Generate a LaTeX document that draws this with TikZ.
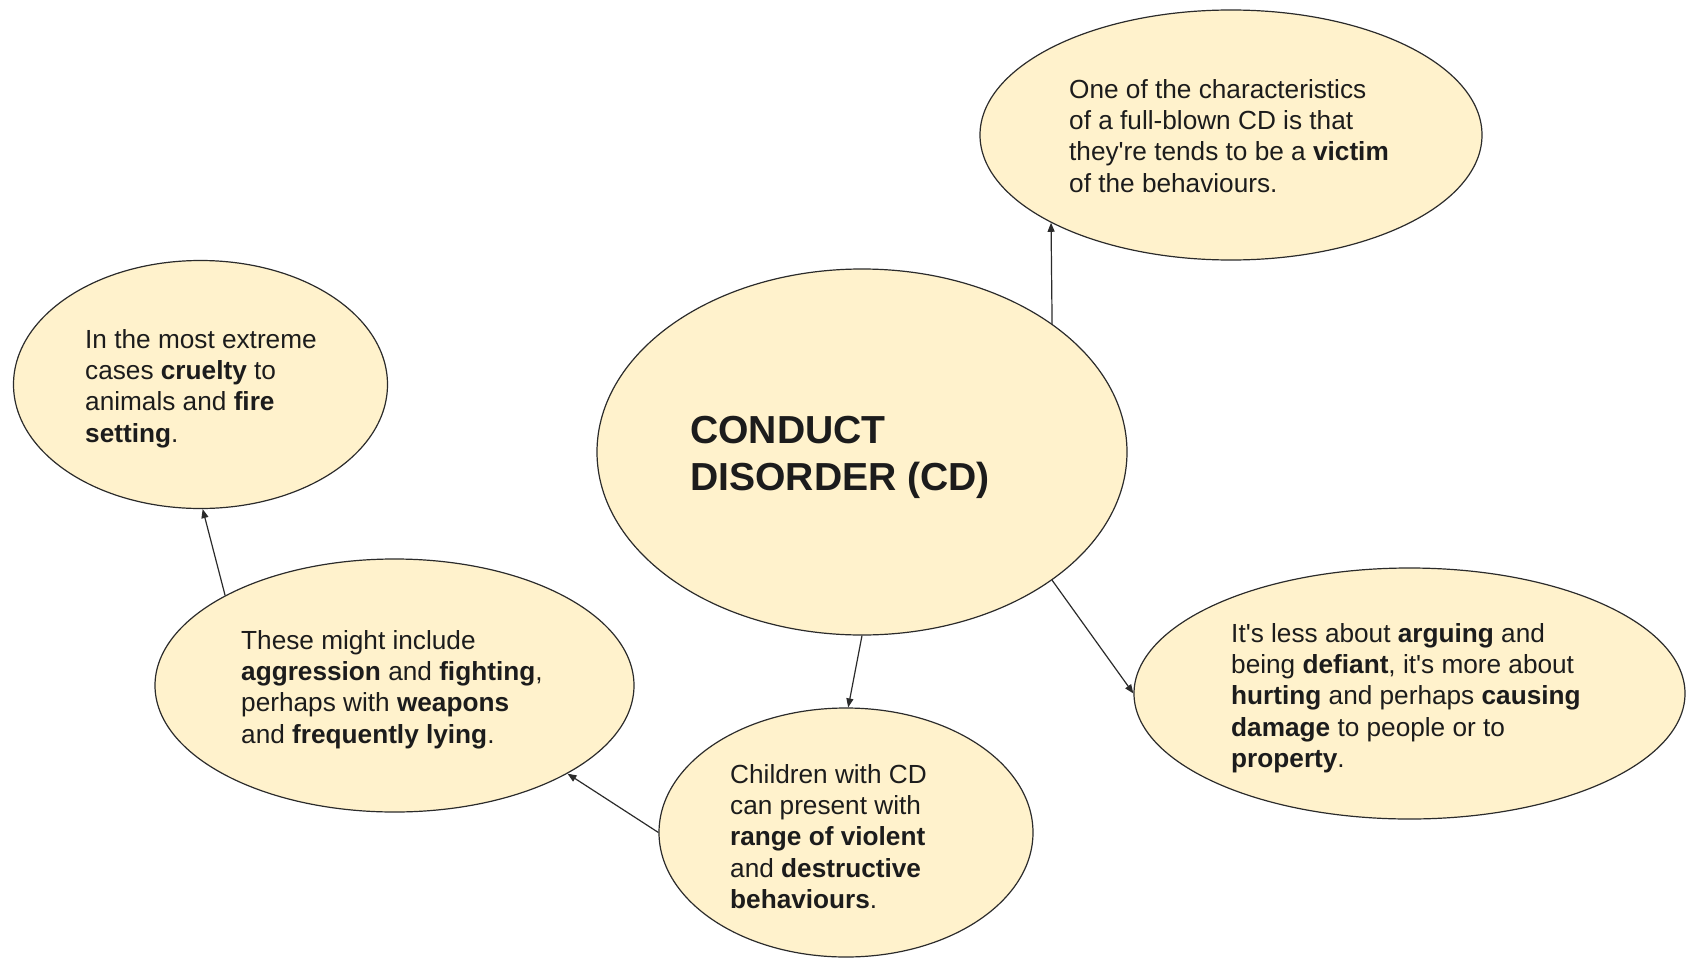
\documentclass[tikz,border=0pt]{standalone}
\usepackage{fontspec}
\setmainfont{Liberation Sans}
\usetikzlibrary{arrows.meta,shapes.geometric}

\definecolor{bubble}{HTML}{FFF2CC}
\definecolor{rim}{HTML}{2B2B2B}
\definecolor{ink}{HTML}{1C1C1C}

% text block whose reference point is the baseline of its first line
\newcommand{\mlines}[1]{\begin{tabular}[t]{@{}l@{}}#1\end{tabular}}
\newcommand{\bodyfont}{\fontsize{26.2}{31.4}\selectfont}
\newcommand{\titlefont}{\fontsize{39.1}{47.5}\selectfont\bfseries}

\tikzset{
  bubble/.style={ellipse, draw=rim, fill=bubble, line width=1.2pt, inner sep=0pt},
  txt/.style={anchor=base west, inner sep=0pt, text=ink, font=\bodyfont},
  link/.style={draw=rim, line width=1.2pt, -{Triangle[length=9pt,width=7pt]}}
}

\begin{document}
\begin{tikzpicture}[x=1pt,y=-1pt]
\useasboundingbox (0,0) rectangle (1686,958);

% ellipses
\node[bubble, minimum width=530pt, minimum height=366pt] (cd)  at (862,452) {};
\node[bubble, minimum width=502pt, minimum height=250pt] (vic) at (1231,135) {};
\node[bubble, minimum width=374pt, minimum height=248pt] (ext) at (200.5,384.5) {};
\node[bubble, minimum width=479pt, minimum height=253pt] (agg) at (394.5,685.5) {};
\node[bubble, minimum width=374pt, minimum height=249pt] (chi) at (846,832.5) {};
\node[bubble, minimum width=551pt, minimum height=251pt] (hur) at (1409.5,693.5) {};

% texts
\node[anchor=base west, inner sep=0pt, text=ink, font=\titlefont] (cdt) at (690,443)
  {\mlines{CONDUCT\\DISORDER (CD)}};
\node[txt] (vict) at (1069,98)
  {\mlines{One of the characteristics\\of a full-blown CD is that\\they\textquotesingle re tends to be a \textbf{victim}\\of the behaviours.}};
\node[txt] (extt) at (85,348)
  {\mlines{In the most extreme\\cases \textbf{cruelty} to\\animals and \textbf{fire}\\\textbf{setting}.}};
\node[txt] (aggt) at (241,649)
  {\mlines{These might include\\\textbf{aggression} and \textbf{fighting},\\perhaps with \textbf{weapons}\\and \textbf{frequently lying}.}};
\node[txt] (chit) at (730,783)
  {\mlines{Children with CD\\can present with\\\textbf{range of violent}\\and \textbf{destructive}\\\textbf{behaviours}.}};
\node[txt] (hurt) at (1231,642)
  {\mlines{It\textquotesingle s less about \textbf{arguing} and\\being \textbf{defiant}, it\textquotesingle s more about\\\textbf{hurting} and perhaps \textbf{causing}\\\textbf{damage} to people or to\\\textbf{property}.}};

% connectors
\draw[link] (cd.34.8)   -- (vic.206.3);
\draw[link] (cd.-34.7)  -- (hur.180.5);
\draw[link] (cd.-90)    -- (chi.89);
\draw[link] (chi.180)   -- (agg.-27.7);
\draw[link] (agg.152.6) -- (ext.-89);
\end{tikzpicture}
\end{document}
